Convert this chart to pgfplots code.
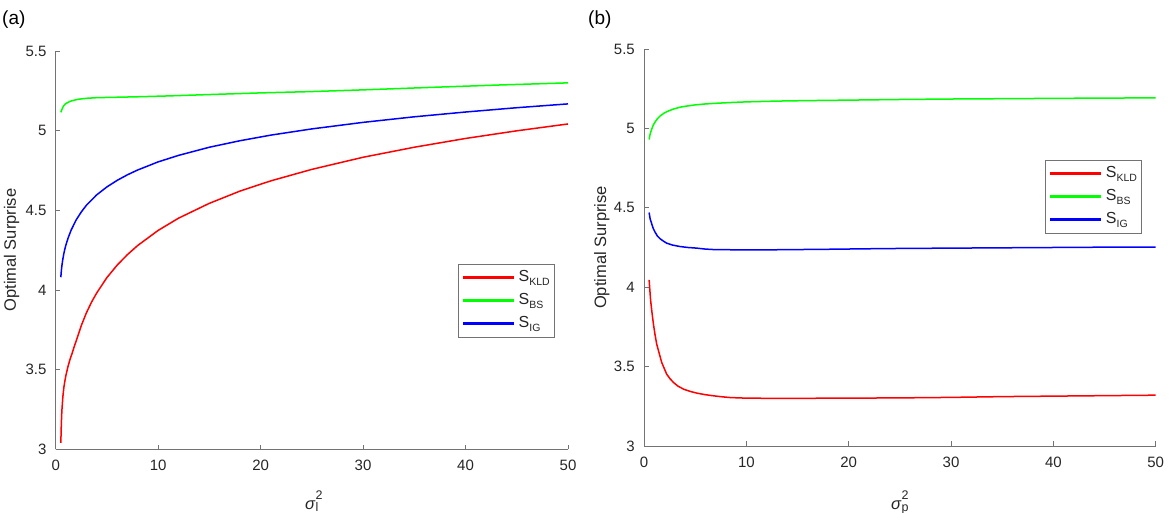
\documentclass[border=0pt]{standalone}
\usepackage{pgfplots}
\pgfplotsset{compat=1.18}
\usepackage{fontspec}
\setmainfont{Liberation Sans}
\definecolor{axgray}{gray}{0.45}
\definecolor{txt}{gray}{0.15}
\definecolor{cR}{rgb}{1,0,0}
\definecolor{cG}{rgb}{0,1,0}
\definecolor{cB}{rgb}{0,0,1}
\newcommand{\Ssub}[1]{S\raisebox{-4pt}{\fontsize{10.5}{12}\selectfont #1}}
\newcommand{\sigl}[1]{{\itshape σ}\kern0.5pt\rlap{\raisebox{9.3pt}{\fontsize{12.5}{14}\selectfont 2}}\raisebox{-2.5pt}{\fontsize{12.5}{14}\selectfont #1}}
\pgfplotsset{
  limg/.style={legend image code/.code={\fill[fill=#1] (0pt,3.2pt) rectangle (50pt,4.8pt); \path (54.5pt,4pt);}},
  mystyle/.style={
    anchor=south west, scale only axis,
    xmin=0, xmax=50, ymin=3, ymax=5.5,
    xtick={0,10,20,30,40,50}, ytick={3,3.5,4,4.5,5,5.5},
    yticklabels={3,3.5,4,4.5,5,5.5},
    axis lines*=left, tick align=inside, major tick length=4.5pt,
    axis line style={draw=axgray, line width=0.8pt},
    tick style={draw=axgray, line width=0.8pt},
    /pgf/number format/assume math mode=true,
    ticklabel style={font=\fontsize{15}{18}\selectfont, text=txt, inner sep=0pt},
    xticklabel style={anchor=base, yshift=-21.7pt},
    yticklabel style={anchor=east, xshift=-9pt},
    label style={font=\fontsize{16.5}{20}\selectfont, text=txt},
    ylabel style={at={(axis description cs:-0.0775,0.5)}, anchor=base, inner sep=0pt},
    xlabel style={at={(axis description cs:0.5,-0.1506)}, anchor=base, inner sep=0pt},
    ylabel={Optimal Surprise},
    every axis plot/.append style={line width=1.5pt},
    legend cell align=left,
    legend style={draw=axgray, line width=0.6pt, fill=white, inner xsep=4.5pt, inner ysep=2pt,
      row sep=0pt, font=\fontsize{16}{18}\selectfont, text=txt,
      nodes={inner sep=0pt, text height=15pt, text depth=8pt},
      cells={anchor=base west}},
  }
}
\begin{document}
\begin{tikzpicture}[x=1pt,y=1pt]
\useasboundingbox (0,0) rectangle (1170,513);
\node[anchor=base west, font=\fontsize{19}{22}\selectfont, text=black, inner sep=0pt] at (2,488.5) {(a)};
\node[anchor=base west, font=\fontsize{19}{22}\selectfont, text=black, inner sep=0pt] at (588,488.5) {(b)};
% ---------------- panel (a)
\begin{axis}[mystyle, at={(55.7pt,63.7pt)}, width=512.3pt, height=398.3pt,
  xlabel={\sigl{l}},
  legend style={at={(0.785,0.4652)}, anchor=north west}]
\addplot[cR, limg=cR] coordinates {
(0.5,3.04) (0.55,3.16) (0.6,3.24) (0.7,3.33) (0.8,3.39) (0.9,3.43) (1.0,3.465)
(1.2,3.52) (1.4,3.565) (1.6,3.602) (1.8,3.643) (2.05,3.69) (2.5,3.777) (3,3.857)
(3.5,3.924) (4,3.981) (5,4.078) (6,4.156) (7,4.222) (8,4.279) (10,4.374) (12,4.451)
(15,4.544) (18,4.621) (21,4.685) (25,4.757) (30,4.833) (35,4.896) (40,4.951)
(45,4.999) (50,5.042)};
\addlegendentry{\Ssub{KLD}}
\addplot[cG, limg=cG] coordinates {
(0.5,5.115) (0.6,5.132) (0.7,5.147) (0.8,5.158) (0.9,5.165) (1.07,5.173) (1.4,5.184)
(1.72,5.19) (2.2,5.197) (3.0,5.203) (4.0,5.207) (5.5,5.209) (8.2,5.213) (11,5.218)
(14.7,5.226) (20,5.237) (24.8,5.245) (30,5.256) (36.8,5.272) (43,5.286) (50,5.30)};
\addlegendentry{\Ssub{BS}}
\addplot[cB, limg=cB] coordinates {
(0.5,4.08) (0.55,4.12) (0.6,4.15) (0.7,4.195) (0.8,4.23) (0.9,4.259) (1.0,4.283)
(1.2,4.324) (1.5,4.375) (2,4.440) (2.5,4.490) (3,4.532) (4,4.597) (5,4.647)
(6,4.688) (7,4.723) (8,4.753) (10,4.804) (12,4.845) (15,4.896) (18,4.937)
(21,4.972) (25,5.011) (30,5.052) (35,5.087) (40,5.117) (45,5.144) (50,5.168)};
\addlegendentry{\Ssub{IG}}
\end{axis}
% ---------------- panel (b)
\begin{axis}[mystyle, at={(644pt,67pt)}, width=511.7pt, height=397pt,
  xlabel={\sigl{p}},
  ylabel style={at={(axis description cs:-0.0742,0.5)}},
  xlabel style={at={(axis description cs:0.5,-0.1587)}},
  legend style={at={(0.784,0.720)}, anchor=north west}]
\addplot[cR, limg=cR] coordinates {
(0.5,4.046) (0.55,4.00) (0.65,3.915) (0.78,3.84) (0.92,3.768) (1.08,3.70) (1.24,3.642)
(1.5,3.58) (1.73,3.526) (2.0,3.485) (2.22,3.452) (2.55,3.423) (2.88,3.40) (3.3,3.378)
(3.86,3.358) (4.5,3.344) (5.16,3.333) (6.0,3.323) (6.8,3.316) (7.6,3.31) (8.43,3.305)
(10.1,3.301) (14,3.30) (18.2,3.301) (22,3.302) (25.1,3.303) (30,3.306) (35,3.311)
(40,3.314) (45,3.317) (50,3.32)};
\addlegendentry{\Ssub{KLD}}
\addplot[cG, limg=cG] coordinates {
(0.5,4.93) (0.6,4.965) (0.75,4.995) (0.9,5.02) (1.08,5.04) (1.3,5.06) (1.57,5.078)
(2.0,5.098) (2.5,5.113) (3.0,5.124) (3.5,5.133) (4.0,5.139) (5.0,5.148) (6.0,5.154)
(7.0,5.158) (8.5,5.163) (10,5.167) (13,5.172) (16,5.175) (20,5.178) (25,5.182)
(30,5.185) (35,5.187) (40,5.189) (45,5.191) (50,5.192)};
\addlegendentry{\Ssub{BS}}
\addplot[cB, limg=cB] coordinates {
(0.5,4.47) (0.6,4.43) (0.75,4.40) (0.9,4.37) (1.08,4.347) (1.3,4.323) (1.57,4.305)
(1.9,4.29) (2.22,4.277) (2.8,4.265) (3.53,4.256) (4.3,4.25) (5.16,4.246) (6.0,4.24)
(6.8,4.237) (8,4.236) (10,4.235) (11.7,4.235) (15,4.237) (18.2,4.239) (22,4.242)
(25.1,4.244) (30,4.246) (35,4.248) (40,4.25) (45,4.252) (50,4.253)};
\addlegendentry{\Ssub{IG}}
\end{axis}
\end{tikzpicture}
\end{document}
